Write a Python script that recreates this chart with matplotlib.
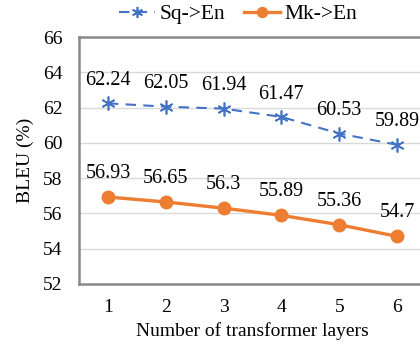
import matplotlib.pyplot as plt

layers = [1, 2, 3, 4, 5, 6]
sq_en = [62.24, 62.05, 61.94, 61.47, 60.53, 59.89]
mk_en = [56.93, 56.65, 56.3, 55.89, 55.36, 54.7]
yticks = [52, 54, 56, 58, 60, 62, 64, 66]

plt.rcParams['font.family'] = ['Liberation Serif', 'DejaVu Serif']

fig = plt.figure(figsize=(4.2, 3.45), dpi=100)
# axes runs a bit off the right edge, like the original crop
ax = fig.add_axes([79/420, 1-284/345, (426-79)/420, (284-37)/345])

blue = '#4472C4'
orange = '#ED7D31'
ast = (6, 2, 0)

ax.plot(layers, sq_en, color=blue, linestyle=(0, (5, 3.5)), linewidth=1.5,
        marker=ast, markersize=10, markeredgewidth=1.2, label='Sq->En', zorder=3)
ax.plot(layers, mk_en, color=orange, linewidth=2.4,
        marker='o', markersize=9, label='Mk->En', zorder=3)

for x, v in zip(layers, sq_en):
    ax.annotate(str(v), (x, v), xytext=(0, 16.5), textcoords='offset points',
                ha='center', va='center', fontsize=14.5)
for x, v in zip(layers, mk_en):
    ax.annotate(str(v), (x, v), xytext=(0, 17), textcoords='offset points',
                ha='center', va='center', fontsize=14.5)

ax.set_xlim(0.5, 6.5)
ax.set_ylim(52, 66)
ax.set_yticks(yticks)
ax.set_xticks(layers)
ax.tick_params(length=0, labelsize=14)
ax.tick_params(axis='y', pad=12)
ax.tick_params(axis='x', pad=11)
ax.grid(axis='y', color='#d9d9d9', linewidth=1)
ax.set_axisbelow(True)
for s in ax.spines.values():
    s.set_color('#898989')
    s.set_linewidth(1.8)

ax.set_xlabel('Number of transformer layers', fontsize=14, labelpad=4)
ax.set_ylabel('BLEU (%)', fontsize=14, labelpad=6)

fig.legend(loc='center', bbox_to_anchor=(238/420, 1-14/345), ncol=2, frameon=False,
           prop={'family': 'Liberation Serif', 'size': 15.5},
           handlelength=1.7, columnspacing=0.85, handletextpad=0.2,
           markerscale=0.8)

fig.savefig('out.png', dpi=100)
